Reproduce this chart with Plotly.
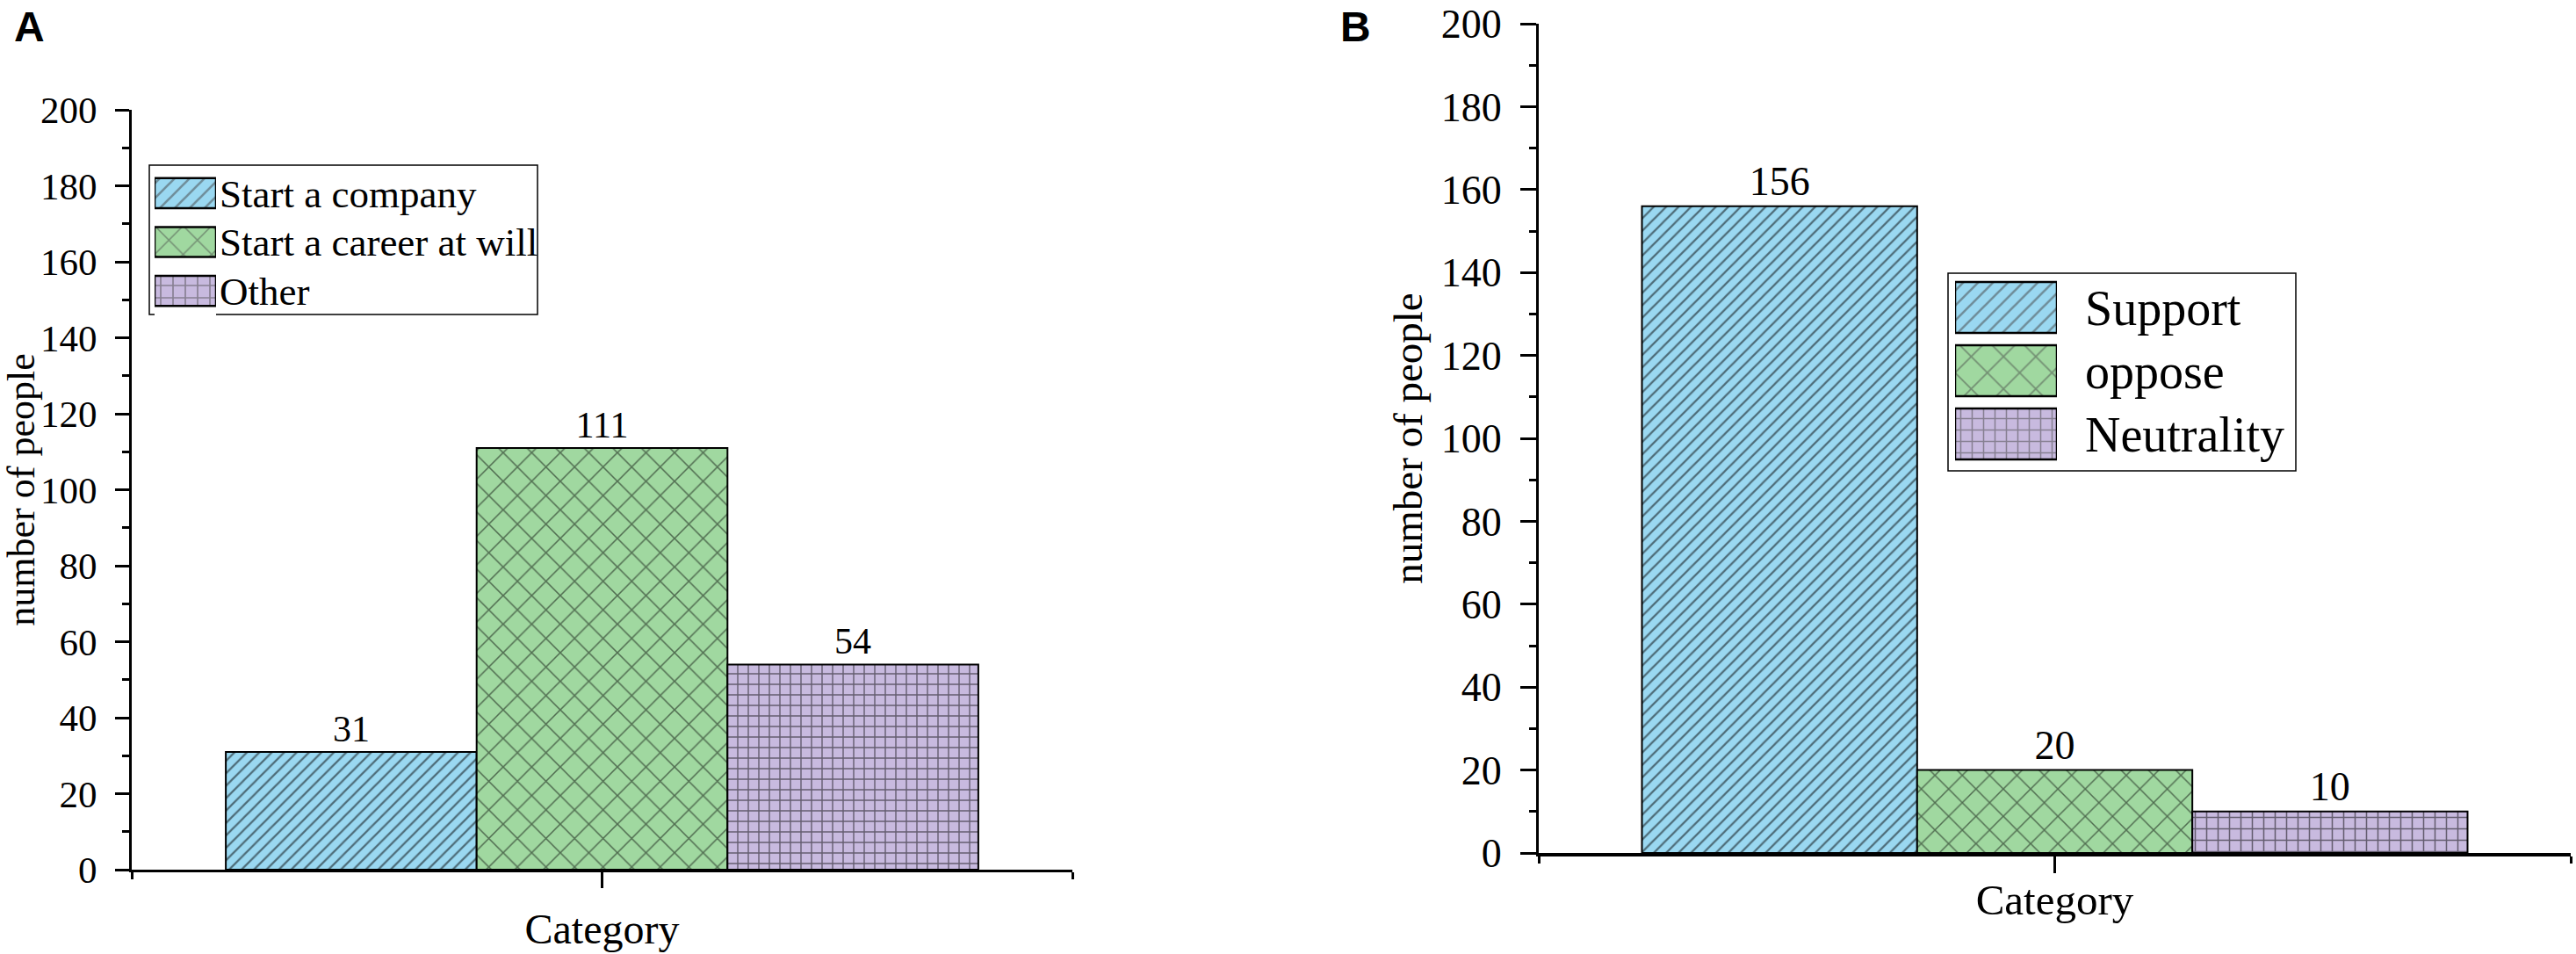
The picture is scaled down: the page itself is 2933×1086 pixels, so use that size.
import plotly.graph_objects as go

# ---------------- data ----------------
CATEGORY = ["Category"]

A_SERIES = ["Start a company", "Start a career at will", "Other"]
A_VALUES = [31, 111, 54]

B_SERIES = ["Support", "oppose", "Neutrality"]
B_VALUES = [156, 20, 10]

Y_LABEL = "number of people"
Y_TICKS = [0, 20, 40, 60, 80, 100, 120, 140, 160, 180, 200]
PANEL_LABELS = ["A", "B"]

# ---------------- style ----------------
W, H = 2933, 1086
COLORS = ["#9ad8f1", "#a0d8a0", "#c8badf"]
PATTERNS = ["/", "x", "+"]
SOLIDITY = [0.22, 0.13, 0.22]
SERIF = "Liberation Serif"


def fx(p):
    return p / W


def fy(p):
    return 1 - p / H


X_POS = list(range(len(CATEGORY)))

fig = go.Figure()

panels = [
    dict(series=A_SERIES, values=A_VALUES, xa="x", ya="y",
         psize=[10, 23, 12], lw=2, txt=42),
    dict(series=B_SERIES, values=B_VALUES, xa="x2", ya="y2",
         psize=[10, 22, 13], lw=2, txt=46),
]

for p in panels:
    for i, (name, val) in enumerate(zip(p["series"], p["values"])):
        fig.add_trace(go.Bar(
            x=X_POS, y=[val], name=name,
            xaxis=p["xa"], yaxis=p["ya"],
            marker=dict(color=COLORS[i],
                        line=dict(color="black", width=p["lw"]),
                        pattern=dict(shape=PATTERNS[i], fgcolor="black",
                                     bgcolor=COLORS[i], size=p["psize"][i],
                                     solidity=SOLIDITY[i],
                                     fillmode="overlay")),
            text=[str(val)], textposition="outside",
            textfont=dict(family=SERIF, size=p["txt"], color="black"),
            constraintext="none", cliponaxis=False, showlegend=False,
        ))

# legend swatches drawn as bars on small auxiliary axes
legends = [
    dict(series=A_SERIES, xa="x3", ya="y3", width=0.613,
         psize=[12, 23, 14]),
    dict(series=B_SERIES, xa="x4", ya="y4", width=0.806,
         psize=[12, 26, 13]),
]
for lg in legends:
    n = len(lg["series"])
    fig.add_trace(go.Bar(
        y=lg["series"], x=[1] * n, orientation="h",
        xaxis=lg["xa"], yaxis=lg["ya"], width=lg["width"],
        marker=dict(color=COLORS[:n],
                    line=dict(color="black", width=2.5),
                    pattern=dict(shape=PATTERNS[:n], fgcolor="black",
                                 bgcolor=COLORS[:n], size=lg["psize"],
                                 solidity=SOLIDITY[:n],
                                 fillmode="overlay")),
        showlegend=False, hoverinfo="skip",
    ))


def yaxis_main(domain, fsize, ticklen, anchor, standoff):
    return dict(domain=domain, range=[0, 200], tickvals=Y_TICKS,
                ticks="outside", ticklen=ticklen, tickwidth=3,
                tickcolor="black", showline=True, linewidth=3,
                linecolor="black", showgrid=False, zeroline=False,
                anchor=anchor, ticklabelstandoff=12, automargin=False,
                ticklabeloverflow="allow",
                tickfont=dict(family=SERIF, size=fsize, color="black"),
                minor=dict(dtick=10, ticks="outside", ticklen=8,
                           tickwidth=3, tickcolor="black"),
                title=dict(text=Y_LABEL, standoff=standoff,
                           font=dict(family=SERIF, size=fsize + 1,
                                     color="black")))


def xaxis_main(domain, fsize, ticklen, lw, anchor, standoff):
    return dict(domain=domain, range=[-0.5, 0.5], tickvals=X_POS,
                showticklabels=False, ticks="outside", ticklen=ticklen,
                tickwidth=3, tickcolor="black", showline=True,
                linewidth=lw, linecolor="black", showgrid=False,
                zeroline=False, anchor=anchor, automargin=False,
                minor=dict(tickmode="array", tickvals=[-0.5, 0.5],
                           ticks="outside", ticklen=8, tickwidth=3,
                           tickcolor="black"),
                title=dict(text=CATEGORY[0], standoff=standoff,
                           font=dict(family=SERIF, size=fsize,
                                     color="black")))


def yaxis_legend(domain, series, anchor, fsize, standoff):
    return dict(domain=domain, type="category", categoryorder="array",
                categoryarray=series, tickmode="array", tickvals=series,
                ticktext=series, autorange="reversed", side="right",
                anchor=anchor, showline=False, ticks="", showgrid=False,
                zeroline=False, ticklabelstandoff=standoff, automargin=False,
                tickfont=dict(family=SERIF, size=fsize, color="black"))


fig.update_layout(
    width=W, height=H,
    margin=dict(l=0, r=0, t=0, b=0, autoexpand=False),
    paper_bgcolor="white", plot_bgcolor="white",
    barmode="group", bargap=0.2, bargroupgap=0,
    showlegend=False,
    xaxis=xaxis_main([fx(150), fx(1221)], 48, 18, 3, "y", 31),
    yaxis=yaxis_main([fy(990), fy(125)], 43, 16, "x", 4),
    xaxis2=xaxis_main([fx(1752), fx(2927)], 49, 19, 4, "y2", 15),
    yaxis2=yaxis_main([fy(971), fy(27)], 46, 18, "x2", 7),
    xaxis3=dict(domain=[fx(176), fx(246)], range=[0, 1], visible=False,
                anchor="y3", automargin=False),
    yaxis3=yaxis_legend([fy(359), fy(192)], A_SERIES, "x3", 45, 3),
    xaxis4=dict(domain=[fx(2226), fx(2342)], range=[0, 1], visible=False,
                anchor="y4", automargin=False),
    yaxis4=yaxis_legend([fy(530), fy(314)], B_SERIES, "x4", 56, 31),
)

# legend frames
for (x0, y0, x1, y1) in [(170, 188, 612, 358), (2218, 311, 2614, 536)]:
    fig.add_shape(type="rect", xref="paper", yref="paper",
                  x0=fx(x0), x1=fx(x1), y0=fy(y1), y1=fy(y0),
                  line=dict(color="black", width=1.5),
                  fillcolor="rgba(0,0,0,0)", layer="below")

# panel letters
for lab, xl in zip(PANEL_LABELS, [14, 1524]):
    fig.add_annotation(text="<b>%s</b>" % lab, xref="paper", yref="paper",
                       x=fx(xl), y=fy(2), xanchor="left", yanchor="top",
                       showarrow=False,
                       font=dict(family="Liberation Sans", size=48,
                                 color="black"))

# remove the page's default body margin so the figure fills the window
fig.write_html("out.html",
               config={"displayModeBar": False},
               post_script="document.body.style.margin='0';"
                           "document.body.style.overflow='hidden';")
